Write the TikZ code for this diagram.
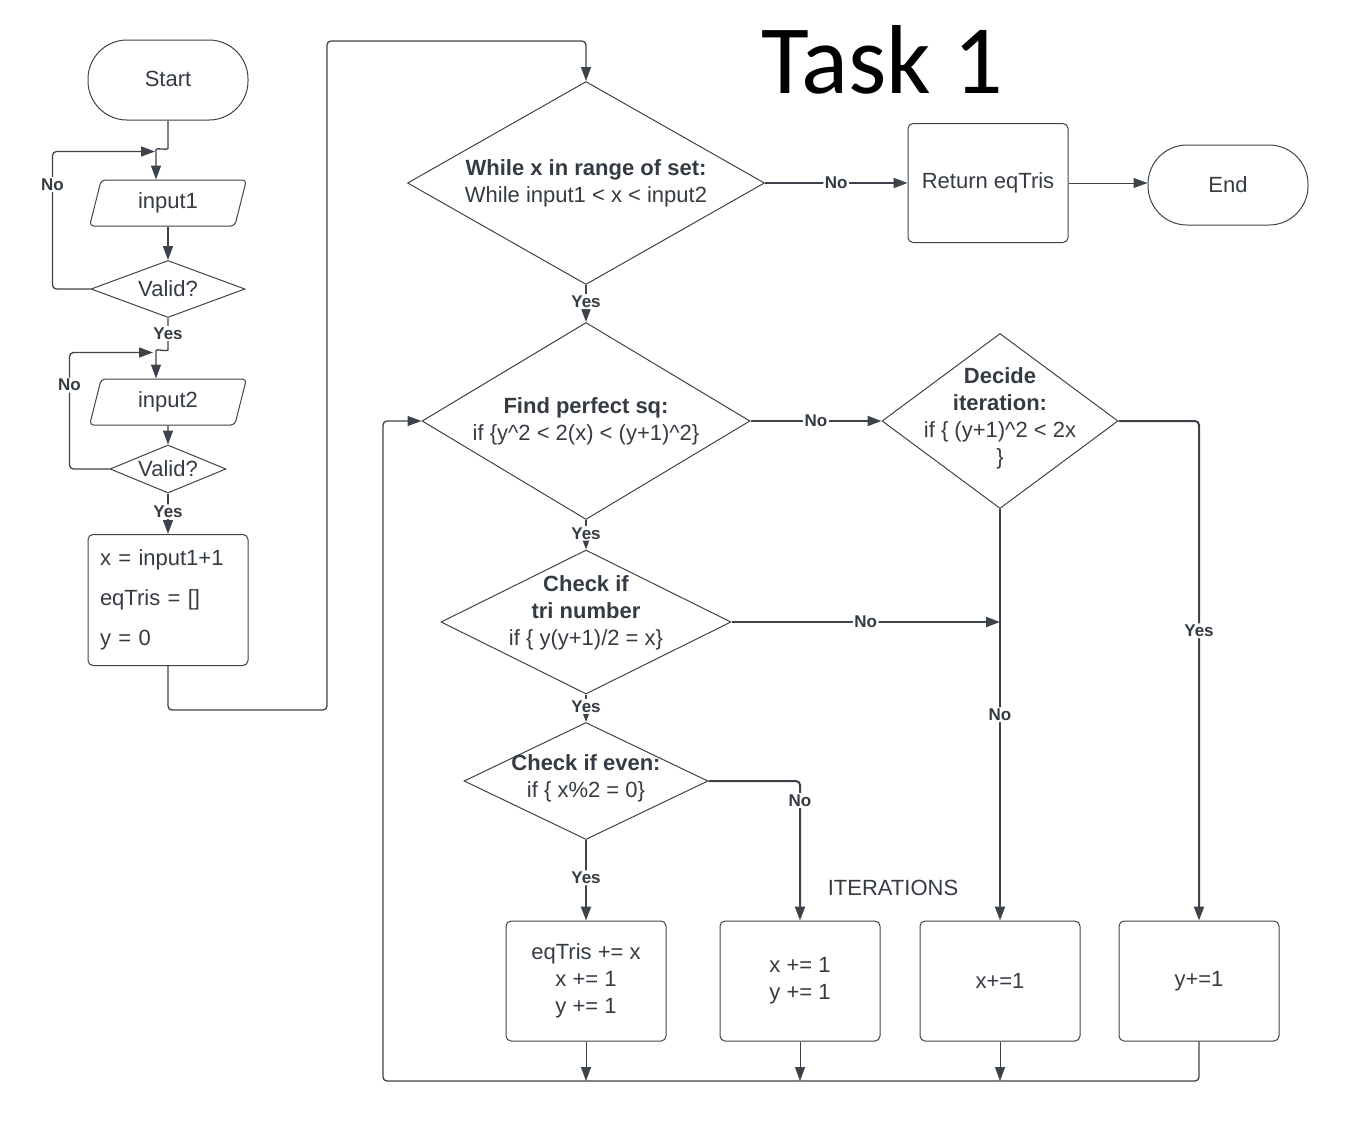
\documentclass[tikz,border=0pt]{standalone}
\usepackage{fontspec}
\setmainfont{Liberation Sans}
\newfontfamily\titlefont{Carlito}
\usetikzlibrary{positioning}
\usetikzlibrary{calc}
\usetikzlibrary{shapes.geometric}
\usetikzlibrary{arrows.meta}
\definecolor{linec}{HTML}{3D434B}
\definecolor{textc}{HTML}{353B43}
\newcommand\boxfont{\fontsize{22}{27}\selectfont}
\newcommand\elfont{\fontsize{17}{20}\selectfont\bfseries}
\tikzset{
	flow/.style={draw=linec, line width=1.3pt, -{Triangle[length=14pt,width=10pt]}, rounded corners=4pt},
	thin flow/.style={flow, line width=1pt},
	thick flow/.style={flow, line width=2pt},
	terminal/.style={rectangle, draw=linec, line width=1pt, rounded corners=39pt, minimum width=160, minimum height=80},
	process/.style={rectangle, draw=linec, line width=1pt, rounded corners=5pt, minimum width=160, minimum height=120, align=center},
	io/.style={trapezium, trapezium left angle=78, trapezium right angle=102, trapezium stretches=true, draw=linec, line width=1pt, rounded corners=4pt, minimum width=158, minimum height=46},
	decision/.style={diamond, draw=linec, line width=1pt, inner sep=0pt},
	dtext/.style={align=center, text=textc},
	el/.style={font=\elfont, fill=white, inner sep=1.5pt, text=textc}
}

\begin{document}
\begin{tikzpicture}[x=1pt, y=-1pt, font=\boxfont, text=textc]
	\useasboundingbox (0,0) rectangle (1348,1122);
	% Title
	\node (title) [text=black, font=\titlefont\fontsize{98}{104}\selectfont] at (882,60) {Task 1};

	% Reading the inputs
	\node (start) [terminal] at (168,80) {\raisebox{3pt}{Start}};
	\node (input1) [io] at (168,203) {input1};
	\node (valid1) [decision, minimum width=154, minimum height=57, label={[dtext]center:Valid?}] at (168,289) {};
	\node (input2) [io] at (168,402) {input2};
	\node (valid2) [decision, minimum width=116, minimum height=48, label={[dtext]center:Valid?}] at (168,469) {};
	\node (init) [process, minimum height=131, align=left, text width=136] at (168,600) {x = input1+1\\[13pt]eqTris = []\\[13pt]y = 0};

	% Main loop
	\node (while) [decision, minimum width=357, minimum height=203, label={[dtext]center:{\textbf{While x in range of set:}\\While input1 < x < input2}}] at (586,183) {};
	\node (return) [process, minimum height=119] at (988,183) {Return eqTris};
	\node (end) [terminal] at (1228,185) {End};
	\node (find) [decision, minimum width=328, minimum height=197, label={[dtext]center:{\textbf{Find perfect sq:}\\if \{y\textasciicircum 2 < 2(x) < (y+1)\textasciicircum 2\}}}] at (586,421) {};
	\node (decide) [decision, minimum width=236, minimum height=175, label={[dtext, yshift=3]center:{\textbf{Decide}\\\textbf{iteration:}\\if \{ (y+1)\textasciicircum 2 < 2x\\\}}}] at (1000,421) {};
	\node (tri) [decision, minimum width=290, minimum height=144, label={[dtext, yshift=9]center:{\textbf{Check if}\\\textbf{tri number}\\if \{ y(y+1)/2 = x\}}}] at (586,622) {};
	\node (even) [decision, minimum width=244, minimum height=117, label={[dtext, yshift=3]center:{\textbf{Check if even:}\\if \{ x\%2 = 0\}}}] at (586,781) {};

	% Iterations
	\node (iter) at (893,888) {ITERATIONS};
	\node (box1) [process] at (586,981) {eqTris += x\\x += 1\\y += 1};
	\node (box2) [process] at (800,981) {x += 1\\y += 1};
	\node (box3) [process] at (1000,981) {x+=1};
	\node (box4) [process] at (1199,981) {y+=1};
	\coordinate (back) at (383,1081);

	% Connectors
	\draw[flow] (start.south) -- ++(0,24) .. controls +(0,6) and +(0,-6) .. ($(input1.north)+(-12,-26)$) -- ($(input1.north)+(-12,0)$);
	\draw[flow] (valid1.west) -- ++(-38,0) |- ($(input1.north)+(-13,-28)$) node[el, pos=0.38] {No};
	\draw[flow] (input1) -- (valid1);
	\draw[flow] (valid1.south) -- ++(0,28) node[el, pos=0.55] {Yes} .. controls +(0,6) and +(0,-6) .. ($(input2.north)+(-12,-24)$) -- ($(input2.north)+(-12,0)$);
	\draw[flow] (valid2.west) -- ++(-40,0) |- ($(input2.north)+(-15,-26)$) node[el, pos=0.36] {No};
	\draw[flow] (input2) -- (valid2);
	\draw[flow] (valid2) -- (init) node[el, pos=0.45] {Yes};
	\draw[flow] (init.south) -- ++(0,44) -| ($(while.north)+(-259,-40)$) -| (while.north);

	\draw[thick flow] (while) -- (return) node[el, midway] {No};
	\draw[thin flow] (return.east) -- (return.east -| end.west);
	\draw[flow] (while) -- (find) node[el, pos=0.45] {Yes};
	\draw[thick flow] (find) -- (decide) node[el, midway] {No};
	\draw[flow] (find) -- (tri) node[el, pos=0.45] {Yes};
	\draw[thick flow] (tri.east) -- (tri.east -| decide.south) node[el, midway] {No};
	\draw[flow] (tri) -- (even) node[el, pos=0.43] {Yes};
	\draw[thick flow] (even.east) -| (box2.north) node[el, pos=0.57] {No};
	\draw[thick flow] (even) -- (box1) node[el, pos=0.47] {Yes};
	\draw[thick flow] (decide.east) -| (box4.north) node[el, pos=0.71] {Yes};
	\draw[thick flow] (decide) -- (box3) node[el, midway] {No};

	\foreach \b in {box1, box2, box3}
		\draw[thin flow] (\b.south) -- (\b.south |- back);
	\draw[flow] (box4.south) |- (back) |- (find.west);
\end{tikzpicture}
\end{document}
